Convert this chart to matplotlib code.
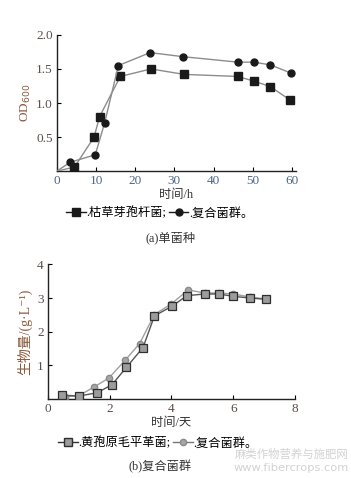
import numpy as np
import matplotlib
matplotlib.use('Agg')
import matplotlib.pyplot as plt
from matplotlib.lines import Line2D

plt.rcParams['font.family'] = ['Liberation Serif', 'Noto Sans CJK SC', 'DejaVu Sans']
plt.rcParams['axes.unicode_minus'] = False

# (a) 单菌种, OD600 vs 时间/h (first point is the origin, unmarked)
a_bs_x = [0, 4.5, 9.5, 10.9, 16.2, 24.0, 32.5, 46.1, 50.4, 54.5, 59.6]
a_bs_y = [0, 0.06, 0.50, 0.80, 1.39, 1.50, 1.42, 1.39, 1.32, 1.24, 1.04]
a_mix_x = [0, 3.4, 9.8, 12.2, 15.7, 23.8, 32.2, 46.2, 50.2, 54.5, 59.7]
a_mix_y = [0, 0.13, 0.24, 0.71, 1.55, 1.74, 1.68, 1.60, 1.60, 1.56, 1.44]

# (b) 复合菌群, 生物量 vs 时间/天
b_pc_x = [0.45, 1.0, 1.6, 2.08, 2.54, 3.08, 3.45, 4.02, 4.5, 5.07, 5.53, 6.0, 6.54, 7.07]
b_pc_y = [0.12, 0.09, 0.19, 0.43, 0.94, 1.53, 2.47, 2.76, 3.07, 3.12, 3.12, 3.05, 3.00, 2.96]
b_mix_x = [0.56, 1.0, 1.5, 1.98, 2.5, 2.97, 3.45, 4.0, 4.54, 5.07, 5.53, 6.0, 6.54, 7.07]
b_mix_y = [0.07, 0.10, 0.36, 0.63, 1.15, 1.65, 2.51, 2.83, 3.24, 3.15, 3.15, 3.12, 3.03, 2.97]

tick_col_a = '#4f6685'
tick_col = '#5a4e48'
label_col = '#8a5a3c'
cjk = ['Liberation Serif', 'Noto Sans CJK SC', 'DejaVu Sans']

fig = plt.figure(figsize=(3.51, 4.78), dpi=100)


def style_axes(ax, xcol, ycol):
    for s in ['top', 'right']:
        ax.spines[s].set_visible(False)
    for s in ['left', 'bottom']:
        ax.spines[s].set_linewidth(1.0)
        ax.spines[s].set_color('#222222')
    ax.tick_params(direction='in', length=3, width=0.8, labelsize=9.5, pad=3)
    ax.tick_params(axis='x', labelcolor=xcol)
    ax.tick_params(axis='y', labelcolor=ycol)


# ---- (a) ----
ax1 = fig.add_axes([0.162, 0.642, 0.681, 0.285])
ax1.plot(a_bs_x, a_bs_y, '-', color='#8c8c8c', lw=1.0, marker='s', ms=6,
         mfc='#1a1a1a', mec='#1a1a1a', markevery=list(range(1, len(a_bs_x))), zorder=3)
ax1.plot(a_mix_x, a_mix_y, '-', color='#8c8c8c', lw=1.0, marker='o', ms=5,
         mfc='#1a1a1a', mec='#1a1a1a', markevery=list(range(1, len(a_mix_x))), zorder=3)
ax1.set_xlim(0, 61)
ax1.set_ylim(0, 2.0)
ax1.set_xticks([0, 10, 20, 30, 40, 50, 60])
ax1.set_yticks([0.5, 1.0, 1.5, 2.0])
ax1.set_yticklabels(['0.5', '1.0', '1.5', '2.0'])
style_axes(ax1, tick_col_a, tick_col)
ax1.set_ylabel(r'OD$_{600}$', color=label_col, fontsize=9.5, labelpad=2)
ax1.set_xlabel('时间/h', family=cjk, fontsize=8.8, color='#333333', labelpad=1)

h1 = [Line2D([], [], color='#1a1a1a', lw=1.0, marker='s', ms=6, mfc='#1a1a1a'),
      Line2D([], [], color='#1a1a1a', lw=1.0, marker='o', ms=5, mfc='#1a1a1a')]
fig.legend(h1, ['.枯草芽孢杆菌;', '.复合菌群。'], loc='center', bbox_to_anchor=(0.455, 0.554),
           ncol=2, frameon=False, handlelength=1.6, handletextpad=0.05, columnspacing=0.2,
           prop={'family': cjk, 'size': 8.8})
fig.text(0.487, 0.502, '(a)单菌种', family=cjk, fontsize=8.8, color='#333333',
         ha='center', va='center')

# ---- (b) ----
ax2 = fig.add_axes([0.136, 0.165, 0.705, 0.282])
ax2.plot(b_mix_x, b_mix_y, '-', color='#a0a0a0', lw=1.0, marker='o', ms=4.5,
         mfc='#a6a6a6', mec='#8a8a8a', zorder=3)
ax2.plot(b_pc_x, b_pc_y, '-', color='#555555', lw=1.0, marker='s', ms=5.5,
         mfc='#9c9c9c', mec='#2e2e2e', mew=0.9, zorder=4)
ax2.set_xlim(0, 8)
ax2.set_ylim(0, 4)
ax2.set_xticks([0, 2, 4, 6, 8])
ax2.set_yticks([1, 2, 3, 4])
style_axes(ax2, tick_col, tick_col)
ax2.set_ylabel('生物量/(g·L⁻¹)', family=cjk, color=label_col, fontsize=10, labelpad=3)
ax2.set_xlabel('时间/天', family=cjk, fontsize=8.8, color='#333333', labelpad=1)

h2 = [Line2D([], [], color='#333333', lw=1.0, marker='s', ms=5.5, mfc='#9c9c9c', mec='#2e2e2e'),
      Line2D([], [], color='#777777', lw=1.0, marker='o', ms=4.5, mfc='#a6a6a6', mec='#8a8a8a')]
fig.legend(h2, ['.黄孢原毛平革菌;', '.复合菌群。'], loc='center', bbox_to_anchor=(0.45, 0.073),
           ncol=2, frameon=False, handlelength=1.6, handletextpad=0.05, columnspacing=0.2,
           prop={'family': cjk, 'size': 8.8})
fig.text(0.455, 0.023, '(b)复合菌群', family=cjk, fontsize=8.8, color='#333333',
         ha='center', va='center')

# watermark
fig.text(0.83, 0.050, '麻类作物营养与施肥网', family=['Noto Sans CJK SC'], fontsize=8.2,
         color='#d2d2d2', ha='center', va='center')
fig.text(0.83, 0.020, 'www.fibercrops.com', family=['DejaVu Sans'], fontsize=8.2,
         color='#d2d2d2', ha='center', va='center')

fig.savefig('out.png', dpi=100)
